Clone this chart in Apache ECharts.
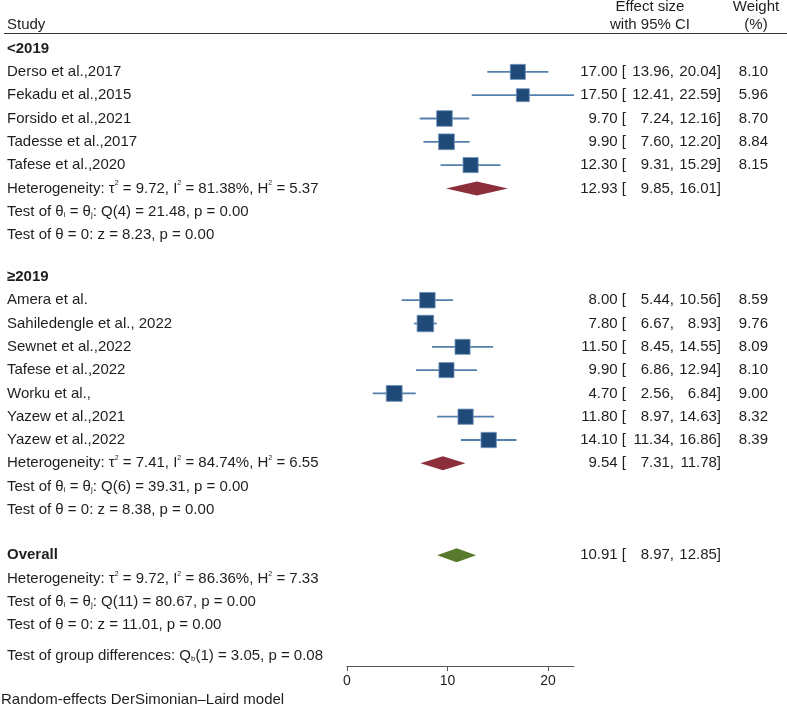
<!DOCTYPE html>
<html>
<head>
<meta charset="utf-8">
<script src="https://cdn.jsdelivr.net/npm/echarts@6/dist/echarts.min.js"></script>
<style>
  html, body { margin: 0; padding: 0; background: #fff; }
  #chart { width: 787px; height: 708px; }
</style>
</head>
<body>
<div id="chart"></div>
<script>
// studies, in plot order
const groupNames = ['<2019', '≥2019'];
const studyNames = [
  'Derso et al.,2017', 'Fekadu et al.,2015', 'Forsido et al.,2021', 'Tadesse et al.,2017', 'Tafese et al.,2020',
  'Amera et al.', 'Sahiledengle et al., 2022', 'Sewnet et al.,2022', 'Tafese et al.,2022', 'Worku et al.,',
  'Yazew et al.,2021', 'Yazew et al.,2022'
];
const studyGroup = [0, 0, 0, 0, 0, 1, 1, 1, 1, 1, 1, 1];
const effect = [17.00, 17.50, 9.70, 9.90, 12.30, 8.00, 7.80, 11.50, 9.90, 4.70, 11.80, 14.10];
const ciLow = [13.96, 12.41, 7.24, 7.60, 9.31, 5.44, 6.67, 8.45, 6.86, 2.56, 8.97, 11.34];
const ciHigh = [20.04, 22.59, 12.16, 12.20, 15.29, 10.56, 8.93, 14.55, 12.94, 6.84, 14.63, 16.86];
const weight = [8.10, 5.96, 8.70, 8.84, 8.15, 8.59, 9.76, 8.09, 8.10, 9.00, 8.32, 8.39];

// pooled: group 1, group 2, overall
const pooledEst = [12.93, 9.54, 10.91];
const pooledLow = [9.85, 7.31, 8.97];
const pooledHigh = [16.01, 11.78, 12.85];
const tau2 = [9.72, 7.41, 9.72];
const iSq = [81.38, 84.74, 86.36];
const hSq = [5.37, 6.55, 7.33];
const qDf = [4, 6, 11];
const qStat = [21.48, 39.31, 80.67];
const qP = [0.00, 0.00, 0.00];
const zStat = [8.23, 8.38, 11.01];
const zP = [0.00, 0.00, 0.00];
const groupDiff = { df: 1, q: 3.05, p: 0.08 };
const xTicks = [0, 10, 20];

const f2 = v => v.toFixed(2);
const FONT = '"Liberation Sans", Arial, sans-serif';
const FS = 15;
const INK = '#1e1e1e';
const BLUE = '#1f4a78', CI_BLUE = '#5580ad';
const DIAMOND = ['#8c2f3b', '#8c2f3b', '#587a2c'];

// ---- row layout (one unit = one text line) ----
const rows = [];
const studyData = [];
const diamondData = [];
let r = 0;

function hetText(k) {
  return `Heterogeneity: τ{sup|2} = ${f2(tau2[k])}, I{sup|2} = ${f2(iSq[k])}%, H{sup|2} = ${f2(hSq[k])}`;
}
function testRows(k) {
  rows.push({ row: r++, left: `Test of θ{sub|i} = θ{sub|j}: Q(${qDf[k]}) = ${f2(qStat[k])}, p = ${f2(qP[k])}` });
  rows.push({ row: r++, left: `Test of θ = 0: z = ${f2(zStat[k])}, p = ${f2(zP[k])}` });
}

rows.push({ row: -1, left: 'Study' });
rows.push({ row: -1.8, center: 'Effect size', weightHead: 'Weight' });
rows.push({ row: -1.02, center: 'with 95% CI', weightHead: '(%)' });

groupNames.forEach((g, gi) => {
  if (gi > 0) r += 0.8;
  rows.push({ row: r++, left: `{b|${g}}` });
  studyNames.forEach((name, i) => {
    if (studyGroup[i] !== gi) return;
    rows.push({ row: r, left: name, ci: [effect[i], ciLow[i], ciHigh[i]], w: weight[i] });
    studyData.push([effect[i], ciLow[i], ciHigh[i], weight[i], r]);
    r++;
  });
  // pooled diamond sits on the heterogeneity line
  rows.push({ row: r, left: hetText(gi), ci: [pooledEst[gi], pooledLow[gi], pooledHigh[gi]] });
  diamondData.push([pooledEst[gi], pooledLow[gi], pooledHigh[gi], r, gi]);
  r++;
  testRows(gi);
});

r += 0.95;
rows.push({ row: r, left: '{b|Overall}', ci: [pooledEst[2], pooledLow[2], pooledHigh[2]] });
diamondData.push([pooledEst[2], pooledLow[2], pooledHigh[2], r, 2]);
r++;
rows.push({ row: r++, left: hetText(2) });
testRows(2);
r += 0.33;
rows.push({ row: r, left: `Test of group differences: Q{sub|b}(${groupDiff.df}) = ${f2(groupDiff.q)}, p = ${f2(groupDiff.p)}` });
rows.push({ row: 27.97, left: 'Random-effects DerSimonian–Laird model', x: 1 });

const rich = {
  sup: { fontSize: 7, fontFamily: FONT, fill: INK, color: INK, padding: [0, 0, 10, 0], verticalAlign: 'middle' },
  sub: { fontSize: 8, fontFamily: FONT, fill: INK, color: INK, padding: [6, 0, 0, 0], verticalAlign: 'middle' },
  b: { fontSize: FS, fontFamily: FONT, fontWeight: 'bold', fill: INK, color: INK }
};

function txt(text, x, y, align, useRich) {
  const style = { text, x, y, fill: INK, font: `${FS}px ${FONT}`, align, verticalAlign: 'middle' };
  if (useRich) style.rich = rich;
  return { type: 'text', style };
}

const chart = echarts.init(document.getElementById('chart'));
chart.setOption({
  animation: false,
  backgroundColor: '#fff',
  grid: { left: 347, right: 213, top: 2, bottom: 42 },
  xAxis: {
    type: 'value', min: 0, max: 22.59,
    splitLine: { show: false },
    axisLine: { onZero: false, lineStyle: { color: '#555', width: 1 } },
    axisTick: { customValues: xTicks, length: 5, lineStyle: { color: '#555' } },
    axisLabel: { customValues: xTicks, fontSize: 14, color: INK, fontFamily: FONT, margin: 8 }
  },
  yAxis: { type: 'value', inverse: true, min: -2, max: 26.5, show: false },
  graphic: [
    { type: 'line', shape: { x1: 4, y1: 33.5, x2: 787, y2: 33.5 }, style: { stroke: '#333', lineWidth: 1.2 } }
  ],
  series: [
    {
      type: 'custom', clip: false,
      data: rows.map(o => [0, o.row]),
      encode: { x: 0, y: 1 },
      renderItem(params, api) {
        const o = rows[params.dataIndex];
        const y = api.coord([0, o.row])[1];
        const kids = [];
        if (o.left) kids.push(txt(o.left, o.x != null ? o.x : 7, y, 'left', true));
        if (o.center) kids.push(txt(o.center, 650, y, 'center'));
        if (o.weightHead) kids.push(txt(o.weightHead, 756, y, 'center'));
        if (o.ci) {
          kids.push(txt(f2(o.ci[0]) + ' [', 626, y, 'right'));
          kids.push(txt(f2(o.ci[1]) + ',', 674, y, 'right'));
          kids.push(txt(f2(o.ci[2]) + ']', 721, y, 'right'));
        }
        if (o.w != null) kids.push(txt(f2(o.w), 768, y, 'right'));
        return { type: 'group', children: kids };
      }
    },
    {
      type: 'custom', clip: false,
      data: studyData,
      encode: { x: [0, 1, 2], y: 4 },
      renderItem(params, api) {
        const row = api.value(4);
        const pe = api.coord([api.value(0), row]);
        const pl = api.coord([api.value(1), row]);
        const ph = api.coord([api.value(2), row]);
        const side = Math.sqrt(api.value(3)) * 5.3;
        return {
          type: 'group',
          children: [
            { type: 'line', shape: { x1: pl[0], y1: pl[1], x2: ph[0], y2: ph[1] }, style: { stroke: CI_BLUE, lineWidth: 1.8 } },
            { type: 'rect', shape: { x: pe[0] - side / 2, y: pe[1] - side / 2, width: side, height: side },
              style: { fill: BLUE, stroke: '#6f93bb', lineWidth: 0.8 } }
          ]
        };
      }
    },
    {
      type: 'custom', clip: false,
      data: diamondData,
      encode: { x: [0, 1, 2], y: 3 },
      renderItem(params, api) {
        const row = api.value(3);
        const pe = api.coord([api.value(0), row]);
        const pl = api.coord([api.value(1), row]);
        const ph = api.coord([api.value(2), row]);
        const h = 7;
        return {
          type: 'polygon',
          shape: { points: [[pl[0], pl[1]], [pe[0], pe[1] - h], [ph[0], ph[1]], [pe[0], pe[1] + h]] },
          style: { fill: DIAMOND[api.value(4)] }
        };
      }
    }
  ]
});
</script>
</body>
</html>
